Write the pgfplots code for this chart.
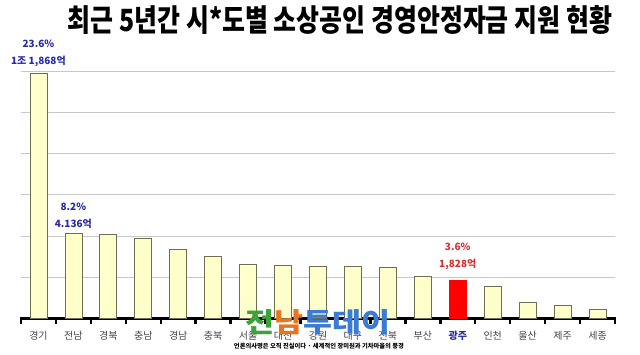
\documentclass[border=0pt]{standalone}
\usepackage{pgfplots}
\pgfplotsset{compat=1.18}
\usepackage{graphicx}
\usepackage{fontspec}
\setmainfont{Noto Sans CJK KR}
\definecolor{barfill}{HTML}{FFFFCC}
\definecolor{baredge}{HTML}{6E6E50}
\definecolor{annblue}{HTML}{2A2AA8}
\definecolor{annred}{HTML}{D83030}
\definecolor{gridgray}{HTML}{C8C8C8}
\definecolor{lblgray}{HTML}{444444}
\definecolor{wmgreen}{HTML}{3BA33A}
\definecolor{wmorange}{HTML}{E8741E}
\definecolor{wmblue}{HTML}{3C7BD4}
\tikzset{ann/.style={align=center, inner sep=0pt, font=\bfseries\fontsize{10}{16.5}\selectfont}}
\begin{document}
\begin{tikzpicture}
\useasboundingbox (0pt,0pt) rectangle (640pt,354pt);
\node at (340pt,334pt) {\resizebox{544pt}{26pt}{\bfseries 최근 5년간 시*도별 소상공인 경영안정자금 지원 현황}};
\begin{axis}[
  at={(21pt,35.5pt)}, anchor=south west,
  scale only axis, width=594pt, height=247.5pt,
  xmin=-0.5, xmax=16.5, ymin=0, ymax=12000,
  clip=false,
  axis x line*=bottom, axis y line*=left,
  x axis line style={line width=3pt, black, shorten <=-1pt, shorten >=-1pt, -},
  y axis line style={draw=none},
  xtick={0,...,16},
  xticklabels={경기,전남,경북,충남,경남,충북,서울,대전,강원,대구,전북,부산,\textbf{\textcolor{annblue}{광주}},인천,울산,제주,세종},
  xticklabel style={font=\fontsize{10}{11}\selectfont, text=lblgray, anchor=center, yshift=-13pt},
  major x tick style={draw=none},
  minor xtick={-0.5,0.5,...,16.5},
  minor tick length=5pt,
  minor x tick style={line width=2.5pt, black},
  tick align=outside,
  ytick={2000,4000,...,12000},
  scaled y ticks=false,
  yticklabel=\empty,
  major y tick style={draw=none},
  ymajorgrids, grid style={gridgray, line width=0.8pt},
]
\addplot[ybar, bar width=17pt, bar shift=0pt, fill=barfill, draw=baredge, line width=0.8pt]
 coordinates {(0,11868) (1,4136) (2,4100) (3,3880) (4,3350) (5,3025) (6,2600) (7,2570) (8,2520) (9,2510) (10,2500) (11,2057) (13,1560) (14,765) (15,640) (16,445)};
\addplot[ybar, bar width=17pt, bar shift=0pt, fill=red, draw=red, line width=0.8pt]
 coordinates {(12,1828)};
\node[ann, text=annblue] at (axis cs:0,12848) {23.6\%\\1조 1,868억};
\node[ann, text=annblue] at (axis cs:1,4994) {8.2\%\\4.136억};
\node[ann, text=annred] at (axis cs:12,3006) {3.6\%\\1,828억};
\end{axis}
\node at (318pt,32pt) {\resizebox{145pt}{23pt}{\bfseries\textcolor{wmgreen}{전}\textcolor{wmorange}{남}\textcolor{wmblue}{투데이}}};
\node at (319pt,8pt) {\resizebox{170pt}{!}{\bfseries 언론의사명은 오직 진실이다 · 세계적인 장미원과 기차마을의 풍경}};
\end{tikzpicture}
\end{document}
